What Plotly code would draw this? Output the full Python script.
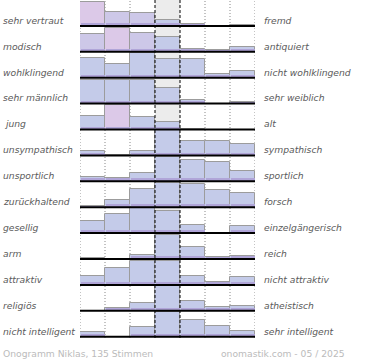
import plotly.graph_objects as go

left_labels = ["sehr vertraut", "modisch", "wohlklingend", "sehr männlich", "\u00a0jung",
               "unsympathisch", "unsportlich", "zurückhaltend", "gesellig", "arm",
               "attraktiv", "religiös", "nicht intelligent"]
right_labels = ["fremd", "antiquiert", "nicht wohlklingend", "sehr weiblich", "alt",
                "sympathisch", "sportlich", "forsch", "einzelgängerisch", "reich",
                "nicht attraktiv", "atheistisch", "sehr intelligent"]

# share per answer step (0..100 = full row height), 7 steps per row
values = [
    [96, 56, 52, 23, 9, 0, 2],
    [71, 97, 77, 61, 13, 7, 19],
    [79, 53, 98, 76, 73, 14, 28],
    [96, 96, 96, 64, 16, 0, 6],
    [53, 99, 52, 30, 2, 0, 0],
    [17, 0, 17, 100, 57, 57, 44],
    [17, 13, 35, 97, 84, 77, 41],
    [6, 27, 73, 96, 92, 69, 56],
    [47, 76, 100, 89, 33, 0, 29],
    [4, 0, 18, 96, 47, 7, 11],
    [36, 68, 96, 96, 35, 11, 31],
    [0, 11, 31, 100, 41, 17, 21],
    [20, 0, 39, 100, 67, 41, 23],
]
# bars drawn in the pink tone (row, column)
pink_bars = {(0, 0), (1, 1), (4, 1)}
lavender_bars = {(0, 1), (0, 2), (1, 0), (1, 2)}

footer_left = "Onogramm Niklas, 135 Stimmen"
footer_right = "onomastik.com - 05 / 2025"

n_rows = len(values)
n_cols = 7
row_fill = 0.965
stripe = 0.11

xs, ys, bases, cols, sy = [], [], [], [], []
for r, row in enumerate(values):
    base = n_rows - 1 - r
    for c, v in enumerate(row):
        h = v / 100 * row_fill
        xs.append(c)
        ys.append(h)
        bases.append(base)
        sy.append(min(h, stripe))
        if (r, c) in pink_bars:
            cols.append("#dcc9e8")
        elif (r, c) in lavender_bars:
            cols.append("#cdc8e8")
        else:
            cols.append("#c4cbe9")

fig = go.Figure()
fig.add_trace(go.Bar(x=xs, y=ys, base=bases, width=1, marker=dict(color=cols, line=dict(color="#9c9c9c", width=1)),
                     hoverinfo="skip"))
fig.add_trace(go.Bar(x=xs, y=sy, base=bases, width=0.96, marker=dict(color="#b0a5d8", line=dict(width=0)),
                     hoverinfo="skip"))

shapes = []
shapes.append(dict(type="rect", xref="x", yref="y", x0=2.5, x1=3.5, y0=-0.05, y1=n_rows,
                   fillcolor="#ececec", line=dict(width=0), layer="below"))
for xb in [-0.5, 0.5, 1.5, 4.5, 5.5, 6.5]:
    shapes.append(dict(type="line", xref="x", yref="y", x0=xb, x1=xb, y0=-0.05, y1=n_rows,
                       line=dict(color="#888888", width=1, dash="1px,2px"), layer="below"))
for xb in [2.5, 3.5]:
    shapes.append(dict(type="line", xref="x", yref="y", x0=xb, x1=xb, y0=-0.05, y1=n_rows,
                       line=dict(color="#000000", width=1, dash="3px,2px"), layer="above"))
for r in range(n_rows):
    base = n_rows - 1 - r
    shapes.append(dict(type="line", xref="x", yref="y", x0=-0.5, x1=6.5, y0=base, y1=base,
                       line=dict(color="#000000", width=2), layer="above"))

ann = []
lab_font = dict(family="DejaVu Sans", size=9.2, color="#5a5a5a", style="italic")
for r in range(n_rows):
    base = n_rows - 1 - r
    ann.append(dict(text=left_labels[r], xref="paper", x=0, xshift=-79, xanchor="left",
                    yref="y", y=base + 0.22, yanchor="middle", showarrow=False, font=lab_font))
    ann.append(dict(text=right_labels[r], xref="paper", x=1, xshift=7, xanchor="left",
                    yref="y", y=base + 0.22, yanchor="middle", showarrow=False, font=lab_font))
foot_font = dict(family="DejaVu Sans", size=9.2, color="#bbbbbb")
ann.append(dict(text=footer_left, xref="paper", x=0, xshift=-79, xanchor="left",
                yref="paper", y=0, yshift=-15, yanchor="middle", showarrow=False, font=foot_font))
ann.append(dict(text=footer_right, xref="paper", x=1, xshift=92, xanchor="right",
                yref="paper", y=0, yshift=-15, yanchor="middle", showarrow=False, font=foot_font))

fig.update_layout(
    width=370, height=360,
    margin=dict(l=80, r=115, t=0, b=22),
    paper_bgcolor="white", plot_bgcolor="white",
    barmode="overlay", bargap=0, showlegend=False,
    xaxis=dict(range=[-0.5, 6.5], visible=False, fixedrange=True),
    yaxis=dict(range=[-0.05, n_rows], visible=False, fixedrange=True),
    shapes=shapes, annotations=ann,
)
fig.write_html("out.html", config={"displayModeBar": False},
               post_script="document.body.style.margin='0';document.body.style.padding='0';")
